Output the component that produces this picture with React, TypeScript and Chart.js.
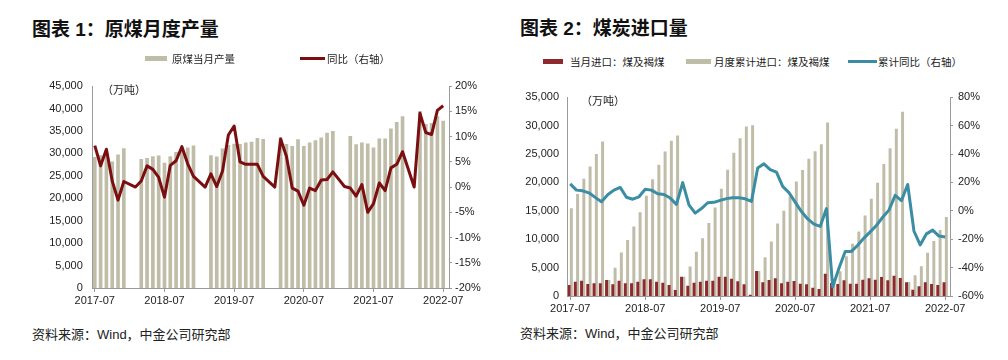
import React, { useEffect, useRef } from 'react';
import { Chart, registerables } from 'chart.js';

Chart.register(...registerables);

const FONT = '"Liberation Sans", Arial, "Noto Sans CJK SC", sans-serif';
const TEXT = '#222222';
const AXIS = '#9a9a9a';
const BEIGE = '#bfbca8';
const DARK_RED = '#7a0e10';
const BAR_RED = '#8e2a2e';
const TEAL = '#3a8da3';

// ---------- shared x-axis tick labels (months from 2017-07, index 0) ----------
const xTickLabels = ['2017-07', '2018-07', '2019-07', '2020-07', '2021-07', '2022-07'];
const xTickIndex = [0, 12, 24, 36, 48, 60];

// ---------- Chart 1: 原煤月度产量 (2017-07 .. 2022-07) ----------
const coalOutput = [
  29100, 29500, 29900, 28100, 29700, 31100,
  null, null, 28700, 28900, 29300, 29450, 27850, 29300, 30250, 30500, 31250, 31700,
  null, null, 29500, 29250, 31000, 31800, 32100, 32000, 32350, 32500, 33350, 33150,
  null, null, 33500, 32000, 31600, 33100, 31600, 32350, 32850, 33450, 34550, 34900,
  null, null, 33800, 31950, 32350, 32150, 31250, 33250, 33250, 35500, 36900, 38200,
  null, null, 39400, 36500, 36700, 38200, 37200,
];
const coalYoY = [
  8.2, 4.2, 7.5, 1.2, -2.6, 1.1,
  null, 0.0, 1.2, 4.2, 3.5, 1.9, -2.0, 4.3, 5.2, 8.0, 4.6, 2.1,
  null, 0.0, 2.6, 0.1, 3.2, 10.3, 12.1, 5.0, 4.5, 4.5, 4.5, 2.1,
  null, 0.0, 9.5, 6.1, -0.2, -0.8, -3.6, -0.2, -0.7, 1.4, 1.5, 3.0,
  null, 0.1, -0.2, -1.8, 0.5, -5.0, -3.3, 0.8, -0.7, 3.8, 4.5, 7.0,
  null, 0.0, 14.6, 10.8, 10.4, 15.2, 16.1,
];

// ---------- Chart 2: 煤炭进口量 (2017-07 .. 2022-07) ----------
const importMonthly = [
  1880, 2470, 2650, 2060, 2180, 2180,
  2760, 2000, 2650, 2180, 2180, 2470, 2880, 2880, 2470, 2290, 1880, 1000,
  3350, 1760, 2290, 2470, 2650, 2650, 3350, 3350, 3000, 2530, 2000, 150,
  4350, 2350, 2760, 3060, 2180, 2470, 2590, 2120, 2000, 1410, 1180, 3880,
  2240, 2060, 2700, 2120, 2120, 2820, 3060, 2820, 3290, 2700, 3530, 3120,
  2380, 1060, 1650, 2350, 2060, 1880, 2350,
];
const importCumulative = [
  15410, 17900, 20580, 22740, 24970, 27150,
  2760, 4920, 7620, 9820, 12170, 14700, 17620, 20520, 23050, 25380, 27280, 28220,
  3350, 5120, 7740, 10110, 12820, 15550, 18820, 22170, 25170, 27750, 29810, 30000,
  4350, 6750, 9550, 12700, 14950, 17500, 20100, 22150, 24100, 25450, 26650, 30500,
  2240, 4300, 6950, 9150, 11300, 14100, 17080, 19900, 23200, 25950, 29400, 32400,
  2400, 3600, 5200, 7550, 9650, 11550, 13850,
];
const importCumYoY = [
  19.0, 14.6, 14.1, 12.7, 9.5, 6.4,
  11.3, 14.6, 16.5, 9.6, 8.2, 9.9, 15.2, 14.6, 12.0, 11.5, 9.0, 4.6,
  19.9, 4.2, -1.6, 1.6, 5.7, 6.0, 7.4, 8.6, 9.2, 9.2, 8.5, 6.6,
  30.2, 33.1, 29.0, 27.3, 17.2, 12.8, 6.2, -0.5, -5.7, -9.3, -11.0, 1.6,
  -53.6, -40.5, -28.6, -28.6, -24.2, -19.2, -14.8, -10.3, -4.5, 0.5, 10.9, 7.2,
  18.6, -14.2, -24.0, -16.2, -13.6, -17.8, -18.4,
];

const toPoints = (arr: (number | null)[]) => arr.map((v, i) => ({ x: i, y: v }));

const tickFont = { size: 11, family: FONT };

function xScale(min: number, max: number, height: number) {
  return {
    type: 'linear',
    min,
    max,
    offset: false,
    afterBuildTicks: (s: any) => {
      s.ticks = xTickIndex.map((v) => ({ value: v }));
    },
    afterFit: (s: any) => {
      s.height = height;
    },
    grid: { display: true, drawOnChartArea: false, drawTicks: true, tickLength: 4, color: AXIS, offset: false },
    border: { display: true, color: AXIS, width: 1 },
    ticks: {
      autoSkip: false,
      maxRotation: 0,
      padding: 2,
      color: TEXT,
      font: tickFont,
      callback: (v: any) => {
        const i = xTickIndex.indexOf(Number(v));
        return i >= 0 ? xTickLabels[i] : '';
      },
    },
  };
}

function leftScale(max: number, step: number, width: number, pad: number) {
  return {
    position: 'left',
    min: 0,
    max,
    afterFit: (s: any) => {
      s.width = width;
    },
    grid: { display: false, drawTicks: false },
    border: { display: true, color: AXIS, width: 1 },
    ticks: {
      stepSize: step,
      padding: pad,
      color: TEXT,
      font: tickFont,
      callback: (v: any) => Number(v).toLocaleString('en-US'),
    },
  };
}

function rightScale(min: number, max: number, step: number, width: number, pad: number) {
  return {
    position: 'right',
    min,
    max,
    afterFit: (s: any) => {
      s.width = width;
    },
    grid: { display: true, drawOnChartArea: false, drawTicks: true, tickLength: 3, color: AXIS },
    border: { display: true, color: AXIS, width: 1 },
    ticks: {
      stepSize: step,
      padding: pad,
      color: TEXT,
      font: tickFont,
      callback: (v: any) => `${v}%`,
    },
  };
}

function ChartOne() {
  const ref = useRef<HTMLCanvasElement | null>(null);
  useEffect(() => {
    if (!ref.current) return;
    const chart = new Chart(ref.current, {
      type: 'bar',
      data: {
        datasets: [
          {
            type: 'line',
            label: '同比（右轴）',
            data: toPoints(coalYoY),
            yAxisID: 'y1',
            borderColor: DARK_RED,
            backgroundColor: DARK_RED,
            borderWidth: 3,
            pointRadius: 0,
            spanGaps: true,
            tension: 0,
            borderJoinStyle: 'round',
            order: 0,
          },
          {
            type: 'bar',
            label: '原煤当月产量',
            data: toPoints(coalOutput),
            yAxisID: 'y',
            backgroundColor: BEIGE,
            barThickness: 3,
            order: 1,
          },
        ],
      } as any,
      options: {
        responsive: false,
        animation: false,
        layout: { padding: { top: 12, left: 0, right: 0, bottom: 0 } },
        plugins: { legend: { display: false }, tooltip: { enabled: false } },
        scales: {
          x: xScale(-0.43, 61, 27),
          y: leftScale(45000, 5000, 92.3, 9.5),
          y1: rightScale(-20, 20, 5, 51, 3),
        } as any,
      },
    });
    return () => chart.destroy();
  }, []);
  return (
    <canvas
      ref={ref}
      width={500}
      height={245}
      style={{ position: 'absolute', left: 0, top: 70, width: 500, height: 245 }}
    />
  );
}

function ChartTwo() {
  const ref = useRef<HTMLCanvasElement | null>(null);
  useEffect(() => {
    if (!ref.current) return;
    const chart = new Chart(ref.current, {
      type: 'bar',
      data: {
        datasets: [
          {
            type: 'line',
            label: '累计同比（右轴）',
            data: toPoints(importCumYoY),
            yAxisID: 'y1',
            borderColor: TEAL,
            backgroundColor: TEAL,
            borderWidth: 3,
            pointRadius: 0,
            tension: 0,
            borderJoinStyle: 'round',
            order: 0,
          },
          {
            type: 'bar',
            label: '当月进口：煤及褐煤',
            data: toPoints(importMonthly),
            yAxisID: 'y',
            backgroundColor: BAR_RED,
            barThickness: 2.3,
            order: 1,
          },
          {
            type: 'bar',
            label: '月度累计进口：煤及褐煤',
            data: toPoints(importCumulative),
            yAxisID: 'y',
            backgroundColor: BEIGE,
            barThickness: 2.3,
            order: 1,
          },
        ],
      } as any,
      options: {
        responsive: false,
        animation: false,
        layout: { padding: { top: 22.3, left: 0, right: 0, bottom: 0 } },
        plugins: { legend: { display: false }, tooltip: { enabled: false } },
        scales: {
          x: xScale(-0.4, 60.77, 24),
          y: leftScale(35000, 5000, 62.7, 8.7),
          y1: rightScale(-60, 80, 20, 58, 5),
        } as any,
      },
    });
    return () => chart.destroy();
  }, []);
  return (
    <canvas
      ref={ref}
      width={503}
      height={245}
      style={{ position: 'absolute', left: 505, top: 75, width: 503, height: 245 }}
    />
  );
}

function Txt(props: { left: number; center: number; size: number; bold?: boolean; children: React.ReactNode }) {
  const lh = Math.round(props.size * 1.3);
  return (
    <div
      style={{
        position: 'absolute',
        left: props.left,
        top: props.center - lh / 2,
        fontSize: props.size,
        lineHeight: `${lh}px`,
        fontWeight: props.bold ? 700 : 400,
        fontFamily: FONT,
        color: props.bold ? '#111' : TEXT,
        whiteSpace: 'nowrap',
      }}
    >
      {props.children}
    </div>
  );
}

function Swatch(props: { left: number; top: number; width: number; height: number; color: string }) {
  return (
    <div
      style={{
        position: 'absolute',
        left: props.left,
        top: props.top,
        width: props.width,
        height: props.height,
        background: props.color,
      }}
    />
  );
}

export default function App() {
  return (
    <div
      style={{
        position: 'fixed',
        left: 0,
        top: 0,
        width: 1008,
        height: 360,
        background: '#ffffff',
        overflow: 'hidden',
      }}
    >
      <ChartOne />
      <ChartTwo />

      {/* Chart 1 texts */}
      <Txt left={32} center={29} size={19} bold>
        图表 1：原煤月度产量
      </Txt>
      <Swatch left={145} top={56} width={22} height={5} color={BEIGE} />
      <Txt left={172} center={58.5} size={10.5}>
        原煤当月产量
      </Txt>
      <Swatch left={300} top={57} width={25} height={3} color={DARK_RED} />
      <Txt left={327} center={58.5} size={10.5}>
        同比（右轴）
      </Txt>
      <Txt left={102} center={90} size={11}>
        （万吨）
      </Txt>
      <Txt left={32} center={334} size={13}>
        资料来源：Wind，中金公司研究部
      </Txt>

      {/* Chart 2 texts */}
      <Txt left={520} center={28.5} size={19} bold>
        图表 2：煤炭进口量
      </Txt>
      <Swatch left={543} top={59} width={20} height={5} color={BAR_RED} />
      <Txt left={570} center={61.5} size={10.5}>
        当月进口：煤及褐煤
      </Txt>
      <Swatch left={686} top={59} width={25} height={5} color={BEIGE} />
      <Txt left={714} center={61.5} size={10.5}>
        月度累计进口：煤及褐煤
      </Txt>
      <Swatch left={848} top={60} width={29} height={3} color={TEAL} />
      <Txt left={878} center={61.5} size={10.5}>
        累计同比（右轴）
      </Txt>
      <Txt left={581} center={101} size={11}>
        （万吨）
      </Txt>
      <Txt left={520} center={333} size={13}>
        资料来源：Wind，中金公司研究部
      </Txt>
    </div>
  );
}
